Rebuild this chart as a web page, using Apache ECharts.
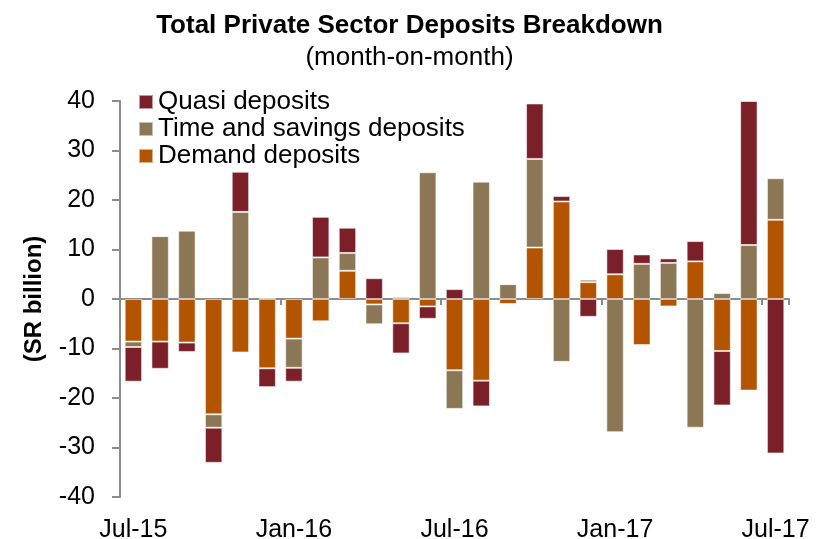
<!DOCTYPE html>
<html>
<head>
<meta charset="utf-8">
<title>Total Private Sector Deposits Breakdown</title>
<script src="https://cdn.jsdelivr.net/npm/echarts@6/dist/echarts.min.js"></script>
<style>
  html, body { margin: 0; padding: 0; background: #ffffff; }
  #chart { width: 819px; height: 539px; }
</style>
</head>
<body>
<div id="chart"></div>
<script>
// Monthly change in private sector deposits, SR billion
const months = [
  'Jul-15', 'Aug-15', 'Sep-15', 'Oct-15', 'Nov-15', 'Dec-15',
  'Jan-16', 'Feb-16', 'Mar-16', 'Apr-16', 'May-16', 'Jun-16',
  'Jul-16', 'Aug-16', 'Sep-16', 'Oct-16', 'Nov-16', 'Dec-16',
  'Jan-17', 'Feb-17', 'Mar-17', 'Apr-17', 'May-17', 'Jun-17', 'Jul-17'
];
const demandDeposits = [
  -8.6, -8.6, -8.8, -23.3, -10.8, -14.0,
  -8.0, -4.5, 5.7, -1.1, -4.9, -1.5,
  -14.4, -16.5, -1.0, 10.4, 19.7, 3.4,
  5.0, -9.3, -1.5, 7.6, -10.5, -18.5, 16.0
];
const timeSavingsDeposits = [
  -1.1, 12.7, 13.8, -2.7, 17.6, 0.3,
  -5.9, 8.4, 3.6, -4.0, 0.4, 25.6,
  -7.8, 23.7, 3.0, 17.9, -12.7, 0.5,
  -26.9, 7.1, 7.3, -26.0, 1.2, 10.9, 8.4
];
const quasiDeposits = [
  -7.0, -5.5, -1.9, -7.1, 8.1, -3.8,
  -2.8, 8.2, 5.1, 4.2, -6.1, -2.5,
  2.0, -5.2, 0.0, 11.2, 1.1, -3.6,
  5.1, 1.9, 0.9, 4.1, -11.0, 29.1, -31.2
];
const yTicks = { min: -40, max: 40, step: 10 };

const FONT = 'Liberation Sans, Arial, sans-serif';
const AXIS_GREY = '#8c8c8c';
const COLORS = { quasi: '#7b2029', time: '#8b7755', demand: '#b35400' };

function barSeries(name, data, color) {
  return {
    name: name,
    type: 'bar',
    stack: 'deposits',
    data: data,
    barCategoryGap: '35%',
    itemStyle: { color: color, borderColor: 'rgba(255,255,255,0.55)', borderWidth: 1 },
    emphasis: { disabled: true }
  };
}

const chart = echarts.init(document.getElementById('chart'), null, { renderer: 'canvas' });
chart.setOption({
  animation: false,
  backgroundColor: '#ffffff',
  textStyle: { fontFamily: FONT, color: '#000' },
  title: {
    text: 'Total Private Sector Deposits Breakdown',
    subtext: '(month-on-month)',
    left: 'center',
    top: 8,
    itemGap: 6,
    textStyle: { fontFamily: FONT, fontSize: 26, fontWeight: 'bold', color: '#000' },
    subtextStyle: { fontFamily: FONT, fontSize: 26, color: '#000' }
  },
  legend: {
    orient: 'vertical',
    left: 138,
    top: 89,
    padding: 0,
    itemWidth: 14,
    itemHeight: 14,
    itemGap: 1,
    icon: 'rect',
    data: ['Quasi deposits', 'Time and savings deposits', 'Demand deposits'],
    textStyle: { fontFamily: FONT, fontSize: 26, color: '#000', padding: [0, 0, 0, 0] },
    selectedMode: false
  },
  grid: { left: 120, right: 30, top: 101, bottom: 42, containLabel: false, outerBoundsMode: 'none' },
  xAxis: [
    {
      type: 'category',
      data: months,
      position: 'bottom',
      axisLine: { show: false, onZero: false },
      axisTick: { show: false },
      axisLabel: { interval: 5, margin: 21, fontFamily: FONT, fontSize: 25, color: '#000' }
    },
    {
      type: 'category',
      data: months,
      position: 'bottom',
      axisLine: { show: true, onZero: true, lineStyle: { color: AXIS_GREY, width: 2 } },
      axisTick: { show: true, interval: 5, length: 6, lineStyle: { color: AXIS_GREY, width: 2 } },
      axisLabel: { show: false }
    }
  ],
  yAxis: {
    type: 'value',
    min: yTicks.min,
    max: yTicks.max,
    interval: yTicks.step,
    name: '(SR billion)',
    nameLocation: 'middle',
    nameGap: 74,
    nameTextStyle: { fontFamily: FONT, fontSize: 24, fontWeight: 'bold', color: '#000' },
    axisLine: { show: true, lineStyle: { color: AXIS_GREY, width: 2 } },
    axisTick: { show: true, length: 8, lineStyle: { color: AXIS_GREY, width: 2 } },
    axisLabel: { margin: 25, fontFamily: FONT, fontSize: 25, color: '#000' },
    splitLine: { show: false }
  },
  series: [
    barSeries('Demand deposits', demandDeposits, COLORS.demand),
    barSeries('Time and savings deposits', timeSavingsDeposits, COLORS.time),
    barSeries('Quasi deposits', quasiDeposits, COLORS.quasi)
  ]
});
</script>
</body>
</html>
